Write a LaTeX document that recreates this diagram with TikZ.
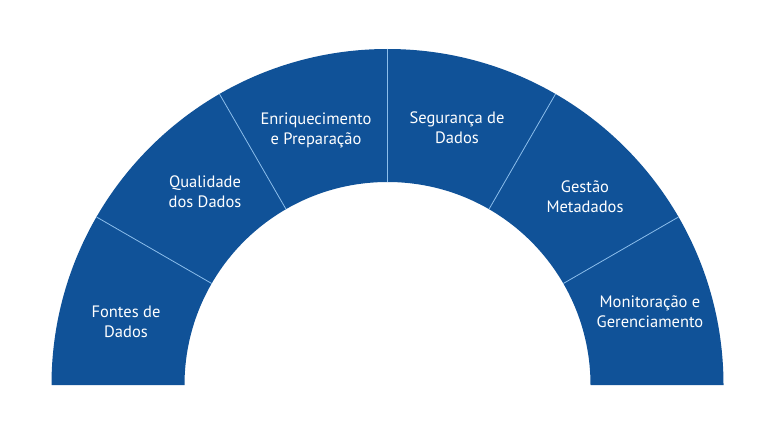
\documentclass[tikz,border=0pt]{standalone}
\usepackage{fontspec}
\setmainfont{PT Sans}
\definecolor{blu}{RGB}{16,82,152}
\definecolor{sep}{RGB}{140,190,235}
\begin{document}
\begin{tikzpicture}[x=1pt,y=1pt,
  lbl/.style={text=white, align=center, inner sep=0pt, font=\fontsize{16.5}{20}\selectfont}]
\useasboundingbox (0,0) rectangle (768,432);
\coordinate (C) at (387.5,47);
\fill[blu] ([shift={(180:336pt)}]C) arc[start angle=180,end angle=0,radius=336pt]
  -- ([shift={(0:203pt)}]C) arc[start angle=0,end angle=180,radius=203pt] -- cycle;
\foreach \a in {30,60,...,150}
  \draw[sep, line width=0.8pt] ([shift={(\a:203pt)}]C) -- ([shift={(\a:336pt)}]C);
\node[lbl] (fontes) at (126,110) {Fontes de\\Dados};
\node[lbl] (qual) at (205,240) {Qualidade\\dos Dados};
\node[lbl] (enr) at (316,302) {Enriquecimento\\e Preparação};
\node[lbl] (seg) at (457,304) {Segurança de\\Dados};
\node[lbl] (gest) at (585,235) {Gestão\\Metadados};
\node[lbl] (mon) at (650,120) {Monitoração e\\Gerenciamento};
\end{tikzpicture}
\end{document}
